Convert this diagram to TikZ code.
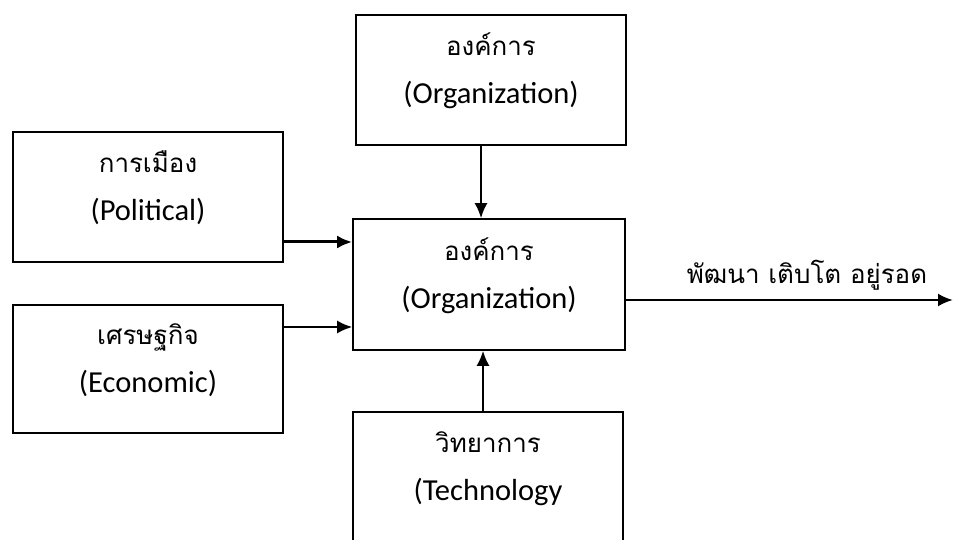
\documentclass[tikz,border=0pt]{standalone}
\usepackage{fontspec}
\setmainfont{Carlito}
\newfontfamily\thaifont[Script=Thai,Scale=0.85]{Loma}
\usetikzlibrary{arrows.meta,positioning}

% Thai line over English line, lifted a little inside its box
\newcommand{\twolines}[3][10pt]{%
  \raisebox{#1}[\height][\depth]{\begin{tabular}{@{}c@{}}{\thaifont #2}\\#3\end{tabular}}}

\tikzset{
  factor/.style={draw, line width=1.6pt, minimum width=270pt, minimum height=130pt, inner sep=0pt},
  flow/.style={-{Latex[length=15pt,width=13pt]}, line width=2pt},
}

\begin{document}
\begin{tikzpicture}[x=1pt, y=-1pt, font=\fontsize{30.5}{48}\selectfont]
	% Page size
	\clip (0,0) rectangle (954,540);
	\useasboundingbox (0,0) rectangle (954,540);
	% Draw boxes
	\node[factor] (top) at (491,80) {\twolines{องค์การ}{(Organization)}};
	\node[factor] (pol) at (148,197) {\twolines{การเมือง}{(Political)}};
	\node[factor, minimum height=128pt] (eco) at (148,369) {\twolines{เศรษฐกิจ}{(Economic)}};
	\node[factor, minimum width=272pt, minimum height=131pt] (org) at (489,284.5) {\twolines{องค์การ}{(Organization)}};
	\node[factor, minimum height=136pt] (tech) at (488,480) {\twolines[13pt]{วิทยาการ}{(Technology}};
	% Draw arrows
	\draw[flow, line width=3pt] ([yshift=-45pt]pol.east) -- ([yshift=-45pt]pol.east -| org.west);
	\draw[flow] ([yshift=42pt]eco.east) -- ([yshift=42pt]eco.east -| org.west);
	\draw[flow] ([xshift=-10pt]top.south) -- ([xshift=-10pt]top.south |- org.north);
	\draw[flow] ([xshift=-5pt]tech.north) -- ([xshift=-5pt]tech.north |- org.south);
	% Result
	\coordinate (goal) at (953,300);
	\draw[flow, line width=2.4pt] ([yshift=-15.5pt]org.east) -- (goal);
	\node (growth) at (807,275) {\thaifont พัฒนา เติบโต อยู่รอด};
\end{tikzpicture}
\end{document}
